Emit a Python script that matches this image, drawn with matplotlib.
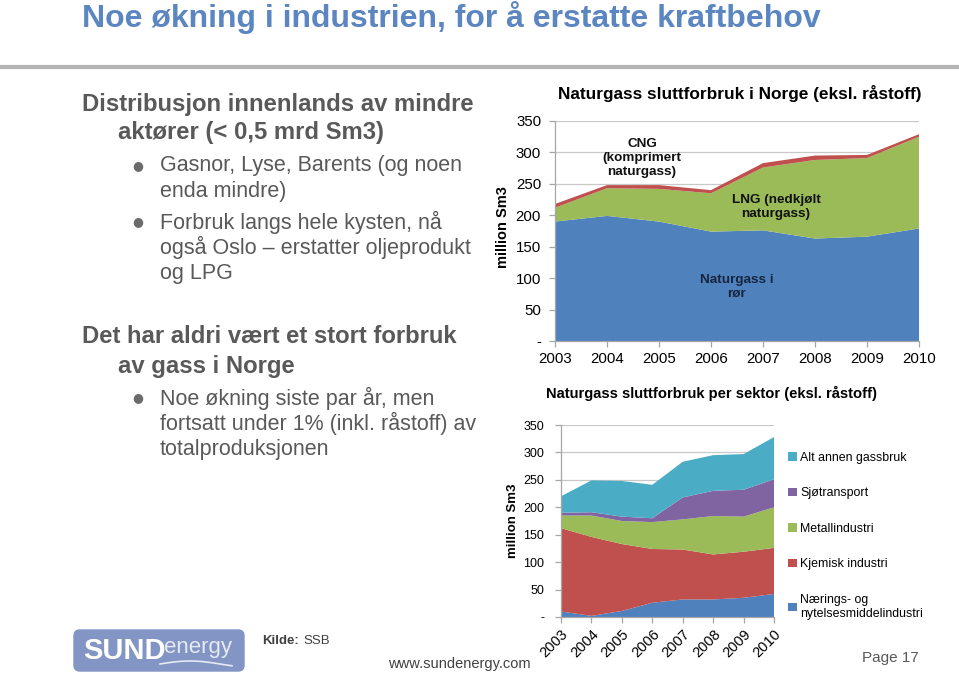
import matplotlib
matplotlib.use("Agg")
import matplotlib.pyplot as plt
from matplotlib.patches import FancyBboxPatch
import numpy as np

plt.rcParams['font.family'] = ['Liberation Sans', 'DejaVu Sans']

# ---------------- data ----------------
years = [2003, 2004, 2005, 2006, 2007, 2008, 2009, 2010]

# Top chart: Naturgass sluttforbruk i Norge
ror = [190, 199, 190, 174, 176, 163, 166, 179]
lng = [22, 44, 52, 61, 100, 125, 125, 146]
cng = [6, 5, 6, 5, 7, 7, 5, 4]

# Bottom chart: per sektor
naering = [10, 2, 11, 26, 32, 32, 35, 42]
kjemisk = [152, 144, 122, 98, 91, 82, 84, 84]
metall = [23, 39, 42, 49, 55, 70, 64, 74]
sjo = [5, 6, 8, 7, 40, 46, 49, 51]
annen = [30, 58, 65, 61, 65, 65, 65, 77]
sector_labels = ["Nærings- og\nnytelsesmiddelindustri", "Kjemisk industri",
                 "Metallindustri", "Sjøtransport", "Alt annen gassbruk"]

yticks = [0, 50, 100, 150, 200, 250, 300, 350]
ytick_labels = ["-", "50", "100", "150", "200", "250", "300", "350"]

BLUE = "#4F81BD"; RED = "#C0504D"; GREEN = "#9BBB59"; PURPLE = "#8064A2"; CYAN = "#4BACC6"
GRAY_TXT = "#595959"
AX_GRAY = "#a6a6a6"

W, H = 959, 676
fig = plt.figure(figsize=(W / 100, H / 100), dpi=100)
fig.patch.set_facecolor("white")

def fx(px):
    return px / W

def fy(py):
    return 1 - py / H

# ---------------- header ----------------
fig.text(fx(82), fy(18), "Noe økning i industrien, for å erstatte kraftbehov",
         fontsize=23, fontweight="bold", color="#5B86C1", va="center", ha="left")
fig.add_artist(plt.Line2D([0, 1], [fy(67), fy(67)], color="#b5b5b5", lw=3,
                          transform=fig.transFigure))

# ---------------- left text ----------------
def line(x, y, s, bold=False, size=15.5):
    fig.text(fx(x), fy(y), s, fontsize=size, fontweight="bold" if bold else "normal",
             color=GRAY_TXT, va="center", ha="left")

def bullet(y):
    fig.text(fx(132), fy(y), "●", fontsize=9, color="#6a6a6a", va="center", ha="left",
             family=["DejaVu Sans"])

HB = 17.2
line(82, 104, "Distribusjon innenlands av mindre", bold=True, size=HB)
line(118, 132, "aktører (< 0,5 mrd Sm3)", bold=True, size=HB)
bullet(166); line(160, 166, "Gasnor, Lyse, Barents (og noen")
line(160, 191, "enda mindre)")
bullet(222); line(160, 222, "Forbruk langs hele kysten, nå")
line(160, 247, "også Oslo – erstatter oljeprodukt")
line(160, 273, "og LPG")
line(82, 337, "Det har aldri vært et stort forbruk", bold=True, size=HB)
line(118, 366, "av gass i Norge", bold=True, size=HB)
bullet(398); line(160, 398, "Noe økning siste par år, men")
line(160, 423, "fortsatt under 1% (inkl. råstoff) av")
line(160, 449, "totalproduksjonen")

# ---------------- axis styling helper ----------------
def style_axes(ax, tick_size):
    ax.set_xlim(years[0], years[-1])
    ax.set_ylim(0, 350)
    ax.set_yticks(yticks, ytick_labels)
    ax.set_axisbelow(True)
    ax.yaxis.grid(True, color="#c8c8c8", lw=0.9)
    for s in ["top", "right"]:
        ax.spines[s].set_visible(False)
    for s in ["left", "bottom"]:
        ax.spines[s].set_color(AX_GRAY)
        ax.spines[s].set_linewidth(0.9)
    ax.tick_params(axis="both", colors=AX_GRAY, length=4, width=0.9,
                   labelcolor="black", labelsize=tick_size)
    ax.set_facecolor("white")

# ---------------- top chart ----------------
ax1 = fig.add_axes([fx(555), fy(341), fx(919 - 555), (341 - 121) / H])
ax1.stackplot(years, ror, lng, cng, colors=[BLUE, GREEN, RED], lw=0)
style_axes(ax1, 10.8)
ax1.set_xticks(years, [str(y) for y in years])
ax1.tick_params(axis="y", pad=6)
ax1.tick_params(axis="x", pad=4)
fig.text(fx(740), fy(94), "Naturgass sluttforbruk i Norge (eksl. råstoff)",
         fontsize=12.4, fontweight="bold", ha="center", va="center")
fig.text(fx(503), fy(227), "million Sm3", rotation=90, fontsize=10.5,
         fontweight="bold", ha="center", va="center")
fig.text(fx(642), fy(158), "CNG\n(komprimert\nnaturgass)", fontsize=9.7,
         fontweight="bold", ha="center", va="center", linespacing=1.22, color="#111111")
fig.text(fx(776), fy(207), "LNG (nedkjølt\nnaturgass)", fontsize=9.7,
         fontweight="bold", ha="center", va="center", linespacing=1.22, color="#111111")
fig.text(fx(737), fy(287), "Naturgass i\nrør", fontsize=9.7,
         fontweight="bold", ha="center", va="center", linespacing=1.22, color="#17253f")

# ---------------- bottom chart ----------------
ax2 = fig.add_axes([fx(561), fy(617), fx(774 - 561), (617 - 425) / H])
polys = ax2.stackplot(years, naering, kjemisk, metall, sjo, annen,
                      colors=[BLUE, RED, GREEN, PURPLE, CYAN], lw=0,
                      labels=sector_labels)
style_axes(ax2, 9)
ax2.set_xticks(years, [str(y) for y in years], rotation=45, ha="right",
               rotation_mode="anchor")
ax2.tick_params(axis="x", labelsize=10.5, pad=3)
ax2.tick_params(axis="y", pad=8)
fig.text(fx(712), fy(393), "Naturgass sluttforbruk per sektor (eksl. råstoff)",
         fontsize=10.6, fontweight="bold", ha="center", va="center")
fig.text(fx(513), fy(521), "million Sm3", rotation=90, fontsize=9.5,
         fontweight="bold", ha="center", va="center")
handles = polys[::-1]
labels = sector_labels[::-1]
fig.legend(handles, labels, loc="upper left",
           bbox_to_anchor=(fx(788), fy(452)), frameon=False, fontsize=8.9,
           handlelength=0.7, handleheight=0.7, handletextpad=0.3,
           labelspacing=1.9, borderaxespad=0, borderpad=0)

# ---------------- footer ----------------
logo = FancyBboxPatch((fx(74), fy(671)), fx(170), (671 - 630) / H,
                      boxstyle="round,pad=0,rounding_size=0.006",
                      transform=fig.transFigure, facecolor="#8295c4",
                      edgecolor="#8295c4", mutation_aspect=W / H)
fig.add_artist(logo)
fig.text(fx(83), fy(651), "SUND", fontsize=21, fontweight="bold", color="white",
         ha="left", va="center")
fig.text(fx(164), fy(647), "energy", fontsize=16, color="#e4e9f3",
         ha="left", va="center")
wx = np.linspace(160, 232, 40)
wy = 664 - 3 * np.sin((wx - 160) / 72 * np.pi * 1.2)
fig.add_artist(plt.Line2D(fx(wx), fy(wy), color="#e4e9f3", lw=1.2,
                          transform=fig.transFigure))
fig.text(fx(262), fy(641), "Kilde:", fontsize=9.5, fontweight="bold", color="#404040",
         ha="left", va="center")
fig.text(fx(303), fy(641), "SSB", fontsize=9.5, color="#404040", ha="left", va="center")
fig.text(fx(388), fy(664), "www.sundenergy.com", fontsize=10.5, color="#404040",
         ha="left", va="center")
fig.text(fx(919), fy(658), "Page 17", fontsize=11, color="#595959", ha="right", va="center")

fig.savefig("out.png", dpi=100, facecolor="white")
